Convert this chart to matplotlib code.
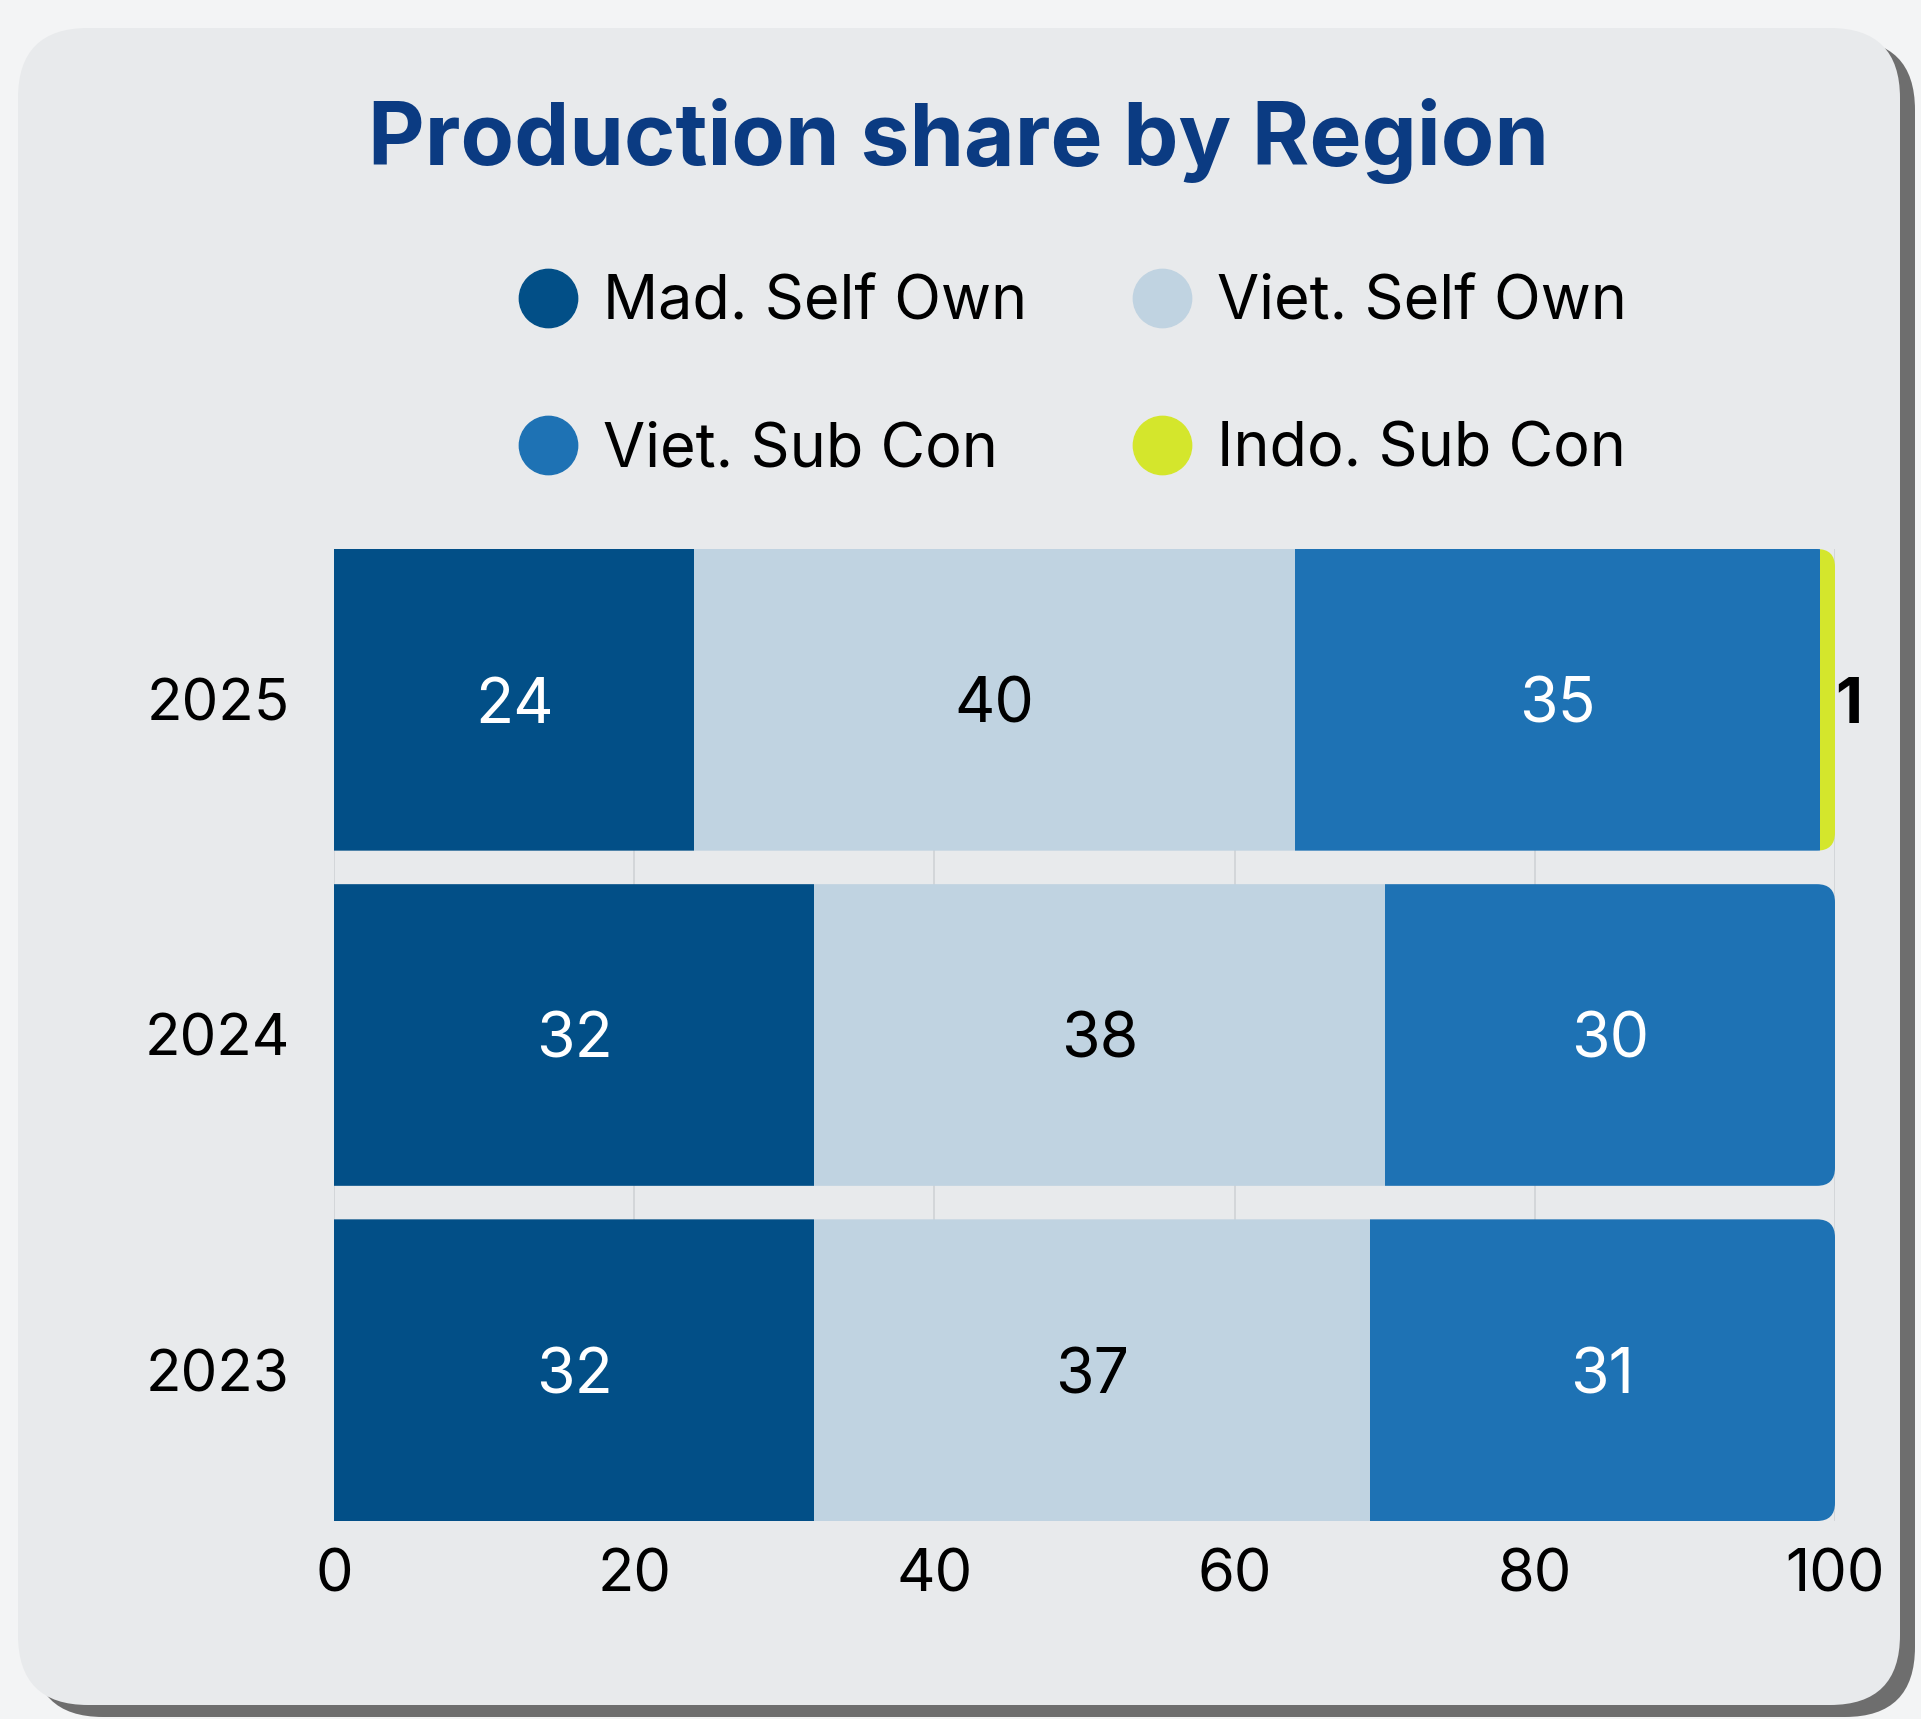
import matplotlib.pyplot as plt
import numpy as np
from matplotlib.patches import FancyBboxPatch
from matplotlib.lines import Line2D

# Data (percent share)
years = ['2023', '2024', '2025']
series = ['Mad. Self Own', 'Viet. Self Own', 'Viet. Sub Con', 'Indo. Sub Con']
mad_self = [32, 32, 24]
viet_self = [37, 38, 40]
viet_sub = [31, 30, 35]
indo_sub = [0, 0, 1]
xticks = [0, 20, 40, 60, 80, 100]

colors = ['#024f87', '#c0d3e1', '#1e72b4', '#d4e62c']
label_colors = ['white', 'black', 'white', 'black']
font = 'Inter'

W, H = 1921, 1719
fig = plt.figure(figsize=(W / 100, H / 100), dpi=100)
fig.patch.set_facecolor('#f3f4f5')

# card with shadow
asp = W / H
r = 70 / W
shadow = FancyBboxPatch((18 / W + 15 / W, 1 - 1705 / H - 12 / H), 1882 / W, (1705 - 28) / H,
                        boxstyle=f"round,pad=0,rounding_size={r}", mutation_aspect=asp,
                        transform=fig.transFigure, facecolor='#6e6e6e', edgecolor='none', zorder=0)
card = FancyBboxPatch((18 / W, 1 - 1705 / H), 1882 / W, (1705 - 28) / H,
                      boxstyle=f"round,pad=0,rounding_size={r}", mutation_aspect=asp,
                      transform=fig.transFigure, facecolor='#e8eaec', edgecolor='none', zorder=0)
fig.add_artist(shadow)
fig.add_artist(card)

ax = fig.add_axes([334 / W, 1 - 1521 / H, (1835 - 334) / W, (1521 - 549) / H])
ax.set_facecolor('none')

data = [mad_self, viet_self, viet_sub, indo_sub]
y = np.arange(len(years))
left = np.zeros(len(years))
containers = []
for vals, c, lc in zip(data, colors, label_colors):
    vals = np.array(vals, dtype=float)
    bars = ax.barh(y, vals, left=left, height=0.9, color=c, edgecolor='none', zorder=2)
    containers.append(bars)
    for yi, v, l0 in zip(y, vals, left):
        if v >= 5:
            ax.text(l0 + v / 2, yi, f"{int(v)}", ha='center', va='center_baseline', color=lc,
                    fontsize=45, family=font, zorder=4)
        elif v > 0:
            ax.text(l0 + v, yi, f"{int(v)}", ha='left', va='center_baseline', color='black',
                    fontsize=45, family=font, fontweight='bold', zorder=4)
    left = left + vals

# round the right end of each row by clipping to a rounded box
for yi, total in zip(y, left):
    clip = FancyBboxPatch((-3, yi - 0.45), total + 3, 0.9,
                          boxstyle="round,pad=0,rounding_size=1.2", mutation_aspect=0.045,
                          transform=ax.transData, facecolor='none', edgecolor='none')
    for bars in containers:
        bars[yi].set_clip_path(clip)

ax.set_xlim(0, 100)
ax.set_ylim(-0.45, 2.45)
ax.set_xticks(xticks)
ax.set_xticklabels([str(t) for t in xticks], family=font, fontsize=43)
ax.set_yticks(y)
ax.set_yticklabels(years, family=font, fontsize=42)
ax.tick_params(axis='both', length=0)
ax.tick_params(axis='x', pad=20)
ax.tick_params(axis='y', pad=32)
ax.grid(axis='x', color='#cfd2d6', linewidth=1.2, zorder=0)
ax.set_axisbelow(True)
for s in ax.spines.values():
    s.set_visible(False)

fig.text(959 / W, 1 - 165 / H, 'Production share by Region', ha='center', va='baseline',
         fontsize=63, fontweight='bold', color='#0b3b82', family=font)

handles = [Line2D([], [], marker='o', linestyle='none', markersize=42, color=c) for c in colors]
order = [0, 2, 1, 3]
fig.legend([handles[i] for i in order], [series[i] for i in order], ncol=2,
           loc='center', bbox_to_anchor=(1072 / W, 1 - 377 / H), frameon=False,
           prop={'family': font, 'size': 44}, handletextpad=0.4, columnspacing=1.7,
           labelspacing=1.45, handlelength=1.0)

fig.savefig('out.png', dpi=100, facecolor=fig.get_facecolor())
